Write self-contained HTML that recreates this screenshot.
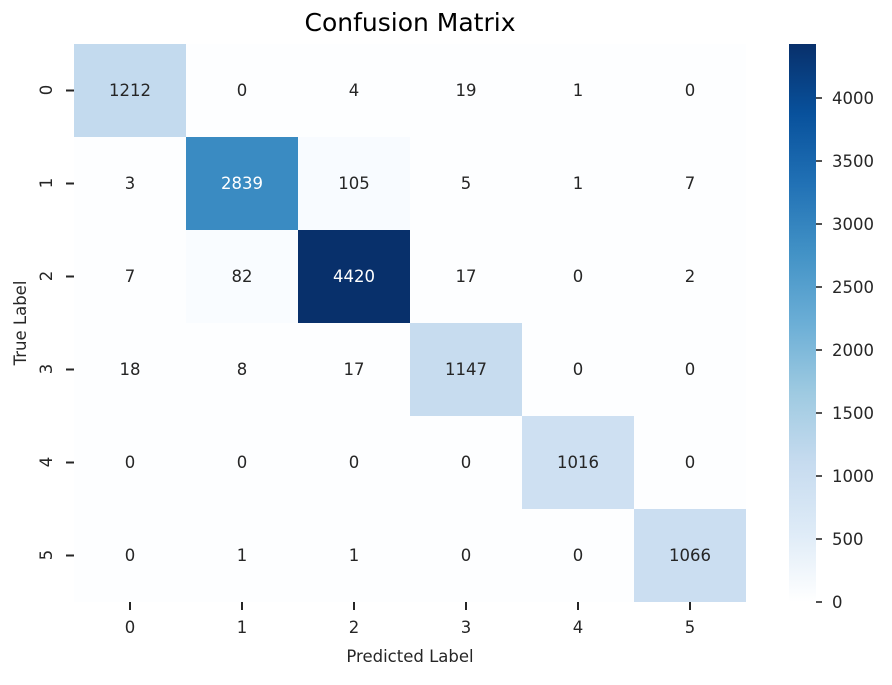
<!DOCTYPE html>
<html><head><meta charset="utf-8"><style>
body{margin:0;background:#fff;}
svg text{font-family:"DejaVu Sans","Liberation Sans",sans-serif;}
</style></head><body>
<svg width="892" height="680" viewBox="0 0 892 680" xmlns="http://www.w3.org/2000/svg">
<defs>
<linearGradient id="g" x1="0" y1="1" x2="0" y2="0">
<stop offset="0" stop-color="#ffffff"/>
<stop offset="0.125" stop-color="#deebf7"/>
<stop offset="0.25" stop-color="#c6dbef"/>
<stop offset="0.375" stop-color="#9ecae1"/>
<stop offset="0.5" stop-color="#6baed6"/>
<stop offset="0.625" stop-color="#4292c6"/>
<stop offset="0.75" stop-color="#2171b5"/>
<stop offset="0.875" stop-color="#08519c"/>
<stop offset="1" stop-color="#08306b"/>
</linearGradient>
</defs>
<text x="410" y="31" font-size="25" text-anchor="middle">Confusion Matrix</text>
<g id="cells">
<rect x="74" y="44" width="672" height="558" fill="#fdfeff"/>
<rect x="74" y="44" width="112" height="93" fill="#c3daee"/>
<rect x="186" y="137" width="112" height="93" fill="#3a8bc2"/>
<rect x="298" y="137" width="112" height="93" fill="#f8fbff"/>
<rect x="298" y="230" width="112" height="93" fill="#08306b"/>
<rect x="186" y="230" width="112" height="93" fill="#f9fcff"/>
<rect x="410" y="323" width="112" height="93" fill="#c7dcef"/>
<rect x="522" y="416" width="112" height="93" fill="#cee0f2"/>
<rect x="634" y="509" width="112" height="93" fill="#cbdef1"/>
</g>
<g font-size="16.5" text-anchor="middle" fill="#262626">
<text x="130" y="96">1212</text><text x="242" y="96">0</text><text x="354" y="96">4</text><text x="466" y="96">19</text><text x="578" y="96">1</text><text x="690" y="96">0</text>
<text x="130" y="189">3</text><text x="242" y="189" fill="#fff">2839</text><text x="354" y="189">105</text><text x="466" y="189">5</text><text x="578" y="189">1</text><text x="690" y="189">7</text>
<text x="130" y="282">7</text><text x="242" y="282">82</text><text x="354" y="282" fill="#fff">4420</text><text x="466" y="282">17</text><text x="578" y="282">0</text><text x="690" y="282">2</text>
<text x="130" y="375">18</text><text x="242" y="375">8</text><text x="354" y="375">17</text><text x="466" y="375">1147</text><text x="578" y="375">0</text><text x="690" y="375">0</text>
<text x="130" y="468">0</text><text x="242" y="468">0</text><text x="354" y="468">0</text><text x="466" y="468">0</text><text x="578" y="468">1016</text><text x="690" y="468">0</text>
<text x="130" y="561">0</text><text x="242" y="561">1</text><text x="354" y="561">1</text><text x="466" y="561">0</text><text x="578" y="561">0</text><text x="690" y="561">1066</text>
</g>
<g stroke="#262626" stroke-width="2">
<line x1="66" y1="90.5" x2="74" y2="90.5"/><line x1="66" y1="183.5" x2="74" y2="183.5"/><line x1="66" y1="276.5" x2="74" y2="276.5"/><line x1="66" y1="369.5" x2="74" y2="369.5"/><line x1="66" y1="462.5" x2="74" y2="462.5"/><line x1="66" y1="555.5" x2="74" y2="555.5"/>
<line x1="130" y1="602" x2="130" y2="610"/><line x1="242" y1="602" x2="242" y2="610"/><line x1="354" y1="602" x2="354" y2="610"/><line x1="466" y1="602" x2="466" y2="610"/><line x1="578" y1="602" x2="578" y2="610"/><line x1="690" y1="602" x2="690" y2="610"/>
</g>
<g font-size="16.5" fill="#262626" text-anchor="middle">
<text transform="translate(52,90) rotate(-90)">0</text>
<text transform="translate(52,183) rotate(-90)">1</text>
<text transform="translate(52,276) rotate(-90)">2</text>
<text transform="translate(52,369) rotate(-90)">3</text>
<text transform="translate(52,462) rotate(-90)">4</text>
<text transform="translate(52,555) rotate(-90)">5</text>
<text x="130" y="633">0</text><text x="242" y="633">1</text><text x="354" y="633">2</text><text x="466" y="633">3</text><text x="578" y="633">4</text><text x="690" y="633">5</text>
<text x="410" y="662">Predicted Label</text>
<text transform="translate(26,323) rotate(-90)">True Label</text>
</g>
<rect x="789" y="44" width="27" height="558" fill="url(#g)"/>
<g stroke="#262626" stroke-width="1.6">
<line x1="816" y1="602" x2="822" y2="602"/><line x1="816" y1="539" x2="822" y2="539"/><line x1="816" y1="476" x2="822" y2="476"/><line x1="816" y1="413" x2="822" y2="413"/><line x1="816" y1="350" x2="822" y2="350"/><line x1="816" y1="287" x2="822" y2="287"/><line x1="816" y1="224" x2="822" y2="224"/><line x1="816" y1="161" x2="822" y2="161"/><line x1="816" y1="98" x2="822" y2="98"/>
</g>
<g font-size="16.5" fill="#262626">
<text x="832" y="608">0</text><text x="832" y="545">500</text><text x="832" y="482">1000</text><text x="832" y="419">1500</text><text x="832" y="356">2000</text><text x="832" y="293">2500</text><text x="832" y="230">3000</text><text x="832" y="167">3500</text><text x="832" y="104">4000</text>
</g>
</svg>
</body></html>
